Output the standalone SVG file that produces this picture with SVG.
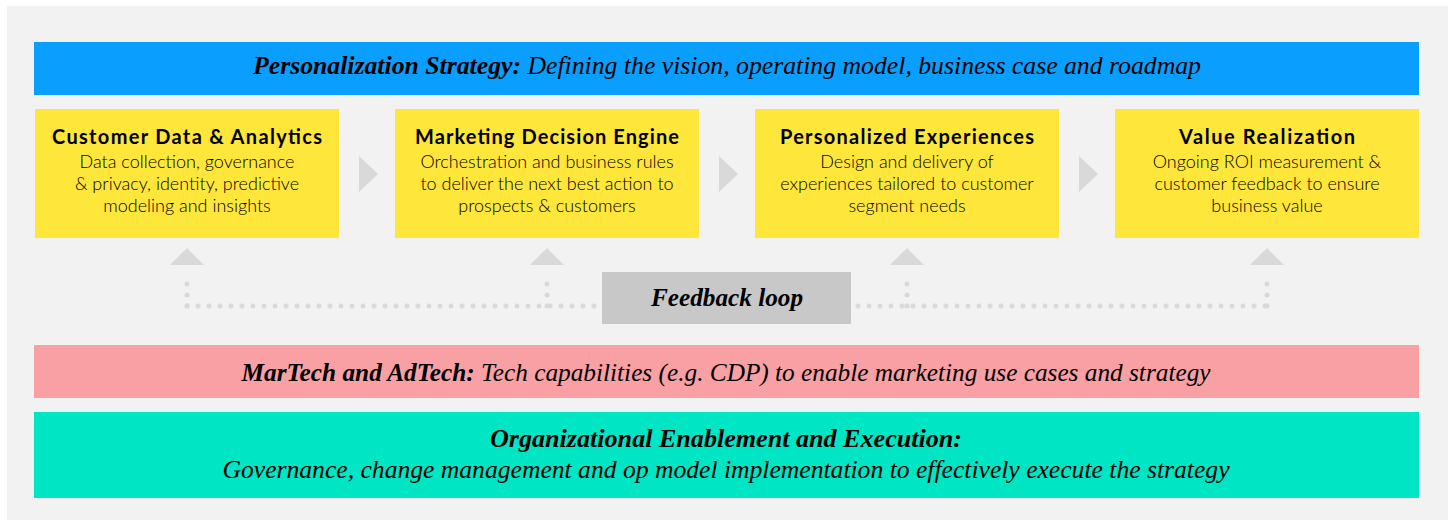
<svg xmlns="http://www.w3.org/2000/svg" width="1448" height="520" viewBox="0 0 1448 520">
<style>
.bar{font-family:"Liberation Serif","Times New Roman",serif;font-style:italic;fill:#000;text-anchor:middle}
.b{font-weight:bold}
.box{fill:#ffe63a}
.t{font-family:Lato,"Open Sans",sans-serif;font-weight:bold;font-size:20px;fill:#000;text-anchor:middle}
.d{font-family:Lato,"Open Sans",sans-serif;font-weight:300;font-size:18px;fill:#000;text-anchor:middle}
.chev{fill:#d9d9d9}
.dot{fill:none;stroke:#d9d9d9;stroke-width:5;stroke-linecap:round;stroke-dasharray:0 11}
</style>
<rect x="7" y="6" width="1441" height="514" fill="#f2f2f2"/>
<g id="strategy">
<rect x="34" y="42" width="1385" height="53" fill="#0a9eff"/>
<text class="bar" x="727" y="74" font-size="25" textLength="948" lengthAdjust="spacingAndGlyphs"><tspan class="b">Personalization Strategy:</tspan> Defining the vision, operating model, business case and roadmap</text>
</g>
<g id="connectors">
<polygon class="chev" points="359,156 378,174 359,192"/>
<polygon class="chev" points="719,156 738,174 719,192"/>
<polygon class="chev" points="1079,156 1098,174 1079,192"/>
<path class="dot" d="M187 306 H1267"/>
<path class="dot" d="M187 306 V273"/>
<path class="dot" d="M547 306 V273"/>
<path class="dot" d="M907 306 V273"/>
<path class="dot" d="M1267 306 V273"/>
<polygon class="chev" points="170,265 204,265 187,248"/>
<polygon class="chev" points="530,265 564,265 547,248"/>
<polygon class="chev" points="890,265 924,265 907,248"/>
<polygon class="chev" points="1250,265 1284,265 1267,248"/>
</g>
<g id="customer-data">
<rect class="box" x="35" y="109" width="304" height="129"/>
<text class="t" x="187" y="144" textLength="270">Customer Data &amp; Analytics</text>
<text class="d" x="187" y="168">Data collection, governance</text>
<text class="d" x="187" y="190">&amp; privacy, identity, predictive</text>
<text class="d" x="187" y="212">modeling and insights</text>
</g>
<g id="decision-engine">
<rect class="box" x="395" y="109" width="304" height="129"/>
<text class="t" x="547" y="144" textLength="264">Marketing Decision Engine</text>
<text class="d" x="547" y="168">Orchestration and business rules</text>
<text class="d" x="547" y="190">to deliver the next best action to</text>
<text class="d" x="547" y="212">prospects &amp; customers</text>
</g>
<g id="experiences">
<rect class="box" x="755" y="109" width="304" height="129"/>
<text class="t" x="907" y="144" textLength="254">Personalized Experiences</text>
<text class="d" x="907" y="168">Design and delivery of</text>
<text class="d" x="907" y="190">experiences tailored to customer</text>
<text class="d" x="907" y="212">segment needs</text>
</g>
<g id="value">
<rect class="box" x="1115" y="109" width="304" height="129"/>
<text class="t" x="1267" y="144" textLength="176">Value Realization</text>
<text class="d" x="1267" y="168">Ongoing ROI measurement &amp;</text>
<text class="d" x="1267" y="190">customer feedback to ensure</text>
<text class="d" x="1267" y="212">business value</text>
</g>
<g id="feedback">
<rect x="602" y="272" width="249" height="52" fill="#c8c8c8"/>
<text class="bar b" x="727" y="306" font-size="25" textLength="152" lengthAdjust="spacingAndGlyphs">Feedback loop</text>
</g>
<g id="martech">
<rect x="34" y="345" width="1385" height="53" fill="#f9a0a5"/>
<text class="bar" x="726" y="381" font-size="25" textLength="969" lengthAdjust="spacingAndGlyphs"><tspan class="b">MarTech and AdTech:</tspan> Tech capabilities (e.g. CDP) to enable marketing use cases and strategy</text>
</g>
<g id="org">
<rect x="34" y="412" width="1385" height="86" fill="#00e5c3"/>
<text class="bar b" x="726" y="447" font-size="25" textLength="472" lengthAdjust="spacingAndGlyphs">Organizational Enablement and Execution:</text>
<text class="bar" x="726" y="478" font-size="25" textLength="1007" lengthAdjust="spacingAndGlyphs">Governance, change management and op model implementation to effectively execute the strategy</text>
</g>
</svg>
